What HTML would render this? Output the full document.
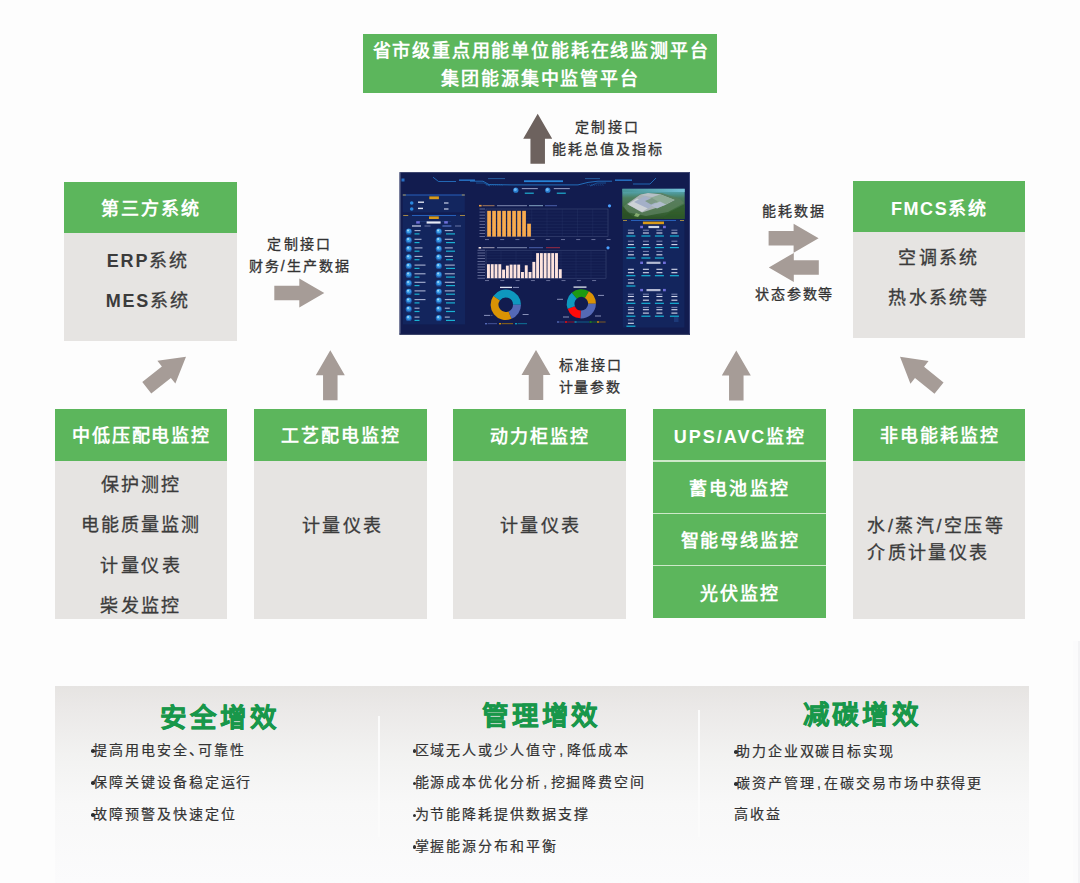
<!DOCTYPE html>
<html lang="zh-CN">
<head>
<meta charset="utf-8">
<style>
*{margin:0;padding:0;box-sizing:border-box}
html,body{width:1080px;height:883px;overflow:hidden;background:#fdfdfd}
body{position:relative;font-family:"Liberation Sans",sans-serif;color:#3a3a3a}
.a{position:absolute}
.g{background:#5cb65c}
.gr{background:#e6e4e2}
.t{position:absolute;white-space:nowrap;line-height:1}
.hd{color:#fff;font-weight:bold}
.bt{color:#3b3b3b;font-weight:normal}
.bt b{font-weight:bold}
.lb{color:#333;font-weight:500}
.ttl{font-weight:bold;color:#18974a}
.bl{color:#333;font-weight:normal}
.bl i{display:inline-block;width:3.6px;height:3.6px;border-radius:50%;background:#2e2e2e;vertical-align:middle;margin-right:-1.6px;position:relative;top:0px}
.bt,.lb{-webkit-text-stroke:0.3px currentColor}
.bl{-webkit-text-stroke:0.2px currentColor}
.ttl{-webkit-text-stroke:0.5px currentColor}
.cm{margin:0 1.5px}
.bt b{-webkit-text-stroke:0}
#dash{filter:blur(0.3px)}


</style>
</head>
<body>
<div id="deco">
<!-- top box -->
<div class="a g" style="left:363px;top:34px;width:354px;height:59px"></div>
<!-- left top box -->
<div class="a g" style="left:64px;top:182px;width:172.6px;height:51.3px"></div>
<div class="a gr" style="left:64px;top:233.3px;width:172.6px;height:107.4px"></div>
<!-- right top box -->
<div class="a g" style="left:852.7px;top:181.2px;width:172.7px;height:51px"></div>
<div class="a gr" style="left:852.7px;top:232.2px;width:172.7px;height:106px"></div>
<!-- lower boxes -->
<div class="a g" style="left:54.7px;top:409px;width:172.5px;height:51.6px"></div>
<div class="a gr" style="left:54.7px;top:460.6px;width:172.5px;height:158px"></div>
<div class="a g" style="left:254px;top:409px;width:173px;height:51.6px"></div>
<div class="a gr" style="left:254px;top:460.6px;width:173px;height:158px"></div>
<div class="a g" style="left:453.3px;top:409px;width:172.4px;height:51.6px"></div>
<div class="a gr" style="left:453.3px;top:460.6px;width:172.4px;height:158px"></div>
<div class="a g" style="left:653.2px;top:409px;width:172.8px;height:209px"></div>
<div class="a" style="left:653.2px;top:460.2px;width:172.8px;height:1.6px;background:#cde9c9"></div>
<div class="a" style="left:653.2px;top:512.8px;width:172.8px;height:1.6px;background:#cde9c9"></div>
<div class="a" style="left:653.2px;top:564.6px;width:172.8px;height:1.6px;background:#cde9c9"></div>
<div class="a g" style="left:853.2px;top:409px;width:172.3px;height:51.6px"></div>
<div class="a gr" style="left:853.2px;top:460.6px;width:172.3px;height:158px"></div>
<!-- arrows -->
<svg class="a" style="left:0;top:0" width="1080" height="883" viewBox="0 0 1080 883">
<defs>
<polygon id="up" points="0,0 14.5,25 7.25,25 7.25,50 -7.25,50 -7.25,25 -14.5,25"/>
</defs>
<use href="#up" fill="#6d625e" transform="translate(537.7,113.7)"/>
<use href="#up" fill="#a69c97" transform="translate(324.3,293) rotate(90)"/>
<use href="#up" fill="#a69c97" transform="translate(330.3,350.2)"/>
<use href="#up" fill="#a69c97" transform="translate(536,350)"/>
<use href="#up" fill="#a69c97" transform="translate(736.3,350.4)"/>
<use href="#up" fill="#a69c97" transform="translate(186,356.7) rotate(51.7)"/>
<use href="#up" fill="#a69c97" transform="translate(900,356.8) rotate(-51.3)"/>
<use href="#up" fill="#a69c97" transform="translate(818.6,238.2) rotate(90)"/>
<use href="#up" fill="#a69c97" transform="translate(768.8,267.4) rotate(-90)"/>
</svg>
<div class="a" style="left:1073px;top:641px;width:7px;height:242px;background:#fbfbfc"></div>
<div class="a" style="left:1078px;top:641px;width:1.5px;height:242px;background:#f3f3f5"></div>
<!-- bottom panel -->
<div class="a" style="left:55px;top:686px;width:974px;height:197px;background:linear-gradient(#e6e4e2 0%,#ebe9e8 12%,#f2f2f1 35%,#f8f8f8 60%,#fbfbfc 100%)"></div>
<div class="a" style="left:378px;top:716px;width:2px;height:121px;background:#fbfbfb"></div>
<div class="a" style="left:697.5px;top:710px;width:2px;height:127px;background:#fbfbfb"></div>
<!-- dashboard -->
<svg id="dash" class="a" style="left:0;top:0" width="1080" height="883" viewBox="0 0 1080 883">
<rect x="399.50" y="172.20" width="290.50" height="162.40" fill="#121c4f"/>
<rect x="399.50" y="172.20" width="1.00" height="162.40" fill="#6c7396"/>
<rect x="689.00" y="172.20" width="1.00" height="162.40" fill="#3a4478"/>
<rect x="399.50" y="333.60" width="290.50" height="1.00" fill="#1c2550"/>
<rect x="401.50" y="178.50" width="3.00" height="3.00" fill="#2a78d0" opacity="0.9"/>
<polyline points="433.0,177.2 438.5,181.5 456.0,181.5" fill="none" stroke="#2a88e0" stroke-width="0.7"/>
<rect x="459.00" y="179.40" width="16.00" height="1.60" fill="#2a7fd6" opacity="0.8"/>
<polyline points="470.0,181.2 483.0,181.2 489.0,184.6 512.0,184.9 578.0,184.9 588.0,182.4 598.0,181.2 612.0,181.2" fill="none" stroke="#2a90e8" stroke-width="0.7"/>
<polyline points="476.0,183.0 484.0,183.0 490.0,186.0" fill="none" stroke="#1f6fc0" stroke-width="0.6"/>
<polyline points="590.0,186.0 597.0,183.0 606.0,183.0" fill="none" stroke="#1f6fc0" stroke-width="0.6"/>
<polyline points="488.0,178.6 505.0,178.6" fill="none" stroke="#3aa0f0" stroke-width="0.6" opacity="0.8"/>
<polyline points="585.0,178.6 600.0,178.6" fill="none" stroke="#3aa0f0" stroke-width="0.6" opacity="0.8"/>
<polyline points="486.0,184.2 487.0,185.8" fill="none" stroke="#2a90e8" stroke-width="0.4" opacity="0.7"/>
<polyline points="587.0,184.2 588.0,185.8" fill="none" stroke="#2a90e8" stroke-width="0.4" opacity="0.7"/>
<polyline points="488.2,184.2 489.2,185.8" fill="none" stroke="#2a90e8" stroke-width="0.4" opacity="0.7"/>
<polyline points="589.2,184.2 590.2,185.8" fill="none" stroke="#2a90e8" stroke-width="0.4" opacity="0.7"/>
<polyline points="490.4,184.2 491.4,185.8" fill="none" stroke="#2a90e8" stroke-width="0.4" opacity="0.7"/>
<polyline points="591.4,184.2 592.4,185.8" fill="none" stroke="#2a90e8" stroke-width="0.4" opacity="0.7"/>
<polyline points="492.6,184.2 493.6,185.8" fill="none" stroke="#2a90e8" stroke-width="0.4" opacity="0.7"/>
<polyline points="593.6,184.2 594.6,185.8" fill="none" stroke="#2a90e8" stroke-width="0.4" opacity="0.7"/>
<polyline points="494.8,184.2 495.8,185.8" fill="none" stroke="#2a90e8" stroke-width="0.4" opacity="0.7"/>
<polyline points="595.8,184.2 596.8,185.8" fill="none" stroke="#2a90e8" stroke-width="0.4" opacity="0.7"/>
<polyline points="497.0,184.2 498.0,185.8" fill="none" stroke="#2a90e8" stroke-width="0.4" opacity="0.7"/>
<polyline points="598.0,184.2 599.0,185.8" fill="none" stroke="#2a90e8" stroke-width="0.4" opacity="0.7"/>
<polyline points="499.2,184.2 500.2,185.8" fill="none" stroke="#2a90e8" stroke-width="0.4" opacity="0.7"/>
<polyline points="600.2,184.2 601.2,185.8" fill="none" stroke="#2a90e8" stroke-width="0.4" opacity="0.7"/>
<polyline points="501.4,184.2 502.4,185.8" fill="none" stroke="#2a90e8" stroke-width="0.4" opacity="0.7"/>
<polyline points="602.4,184.2 603.4,185.8" fill="none" stroke="#2a90e8" stroke-width="0.4" opacity="0.7"/>
<rect x="524.00" y="180.30" width="39.00" height="1.80" fill="#2a8fe6" opacity="0.9"/>
<rect x="615.00" y="179.40" width="17.00" height="1.60" fill="#2a7fd6" opacity="0.8"/>
<polyline points="633.0,184.0 650.0,184.0 656.0,178.0" fill="none" stroke="#2a88e0" stroke-width="0.7"/>
<circle cx="515.80" cy="190.20" r="2.60" fill="#2a7fd0"/>
<circle cx="515.30" cy="189.50" r="1.50" fill="#7cc4ff" opacity="0.8"/>
<rect x="521.80" y="188.05" width="16.00" height="1.10" fill="#aab4d8" opacity="0.8"/>
<rect x="524.80" y="192.60" width="9.00" height="1.20" fill="#20c0e0" opacity="0.9"/>
<circle cx="547.80" cy="190.20" r="2.60" fill="#2a7fd0"/>
<circle cx="547.30" cy="189.50" r="1.50" fill="#7cc4ff" opacity="0.8"/>
<rect x="553.80" y="188.05" width="16.00" height="1.10" fill="#aab4d8" opacity="0.8"/>
<rect x="556.80" y="192.60" width="9.00" height="1.20" fill="#20c0e0" opacity="0.9"/>
<rect x="402.80" y="194.60" width="62.00" height="17.80" fill="#142a64" opacity="0.75"/>
<rect x="402.80" y="194.60" width="62.00" height="0.80" fill="#2d6fd0"/>
<rect x="402.80" y="194.60" width="3.00" height="0.80" fill="#c8a040"/>
<rect x="461.80" y="194.60" width="3.00" height="0.80" fill="#c8a040"/>
<rect x="429.30" y="196.40" width="9.60" height="2.80" fill="#d89a1a"/>
<circle cx="411.70" cy="203.00" r="1.80" fill="#2a88e0"/>
<circle cx="411.70" cy="209.00" r="1.80" fill="#2a88e0"/>
<rect x="418.00" y="201.50" width="6.00" height="1.40" fill="#e0e4f0"/>
<rect x="418.00" y="207.70" width="5.00" height="1.40" fill="#e0e4f0"/>
<rect x="444.00" y="202.40" width="4.50" height="1.20" fill="#c8d0e8"/>
<rect x="444.00" y="208.40" width="4.50" height="1.20" fill="#c8d0e8"/>
<rect x="402.80" y="214.60" width="62.20" height="109.80" fill="#142a64" opacity="0.7"/>
<rect x="412.00" y="215.10" width="44.00" height="0.80" fill="#2d6fd0"/>
<rect x="403.20" y="215.10" width="5.00" height="0.80" fill="#c8a040"/>
<rect x="460.00" y="215.10" width="5.00" height="0.80" fill="#c8a040"/>
<rect x="429.00" y="216.40" width="9.80" height="2.60" fill="#d89a1a"/>
<rect x="419.00" y="221.00" width="9.00" height="0.60" fill="#2a4a8a" opacity="0.7"/>
<rect x="442.00" y="221.00" width="9.00" height="0.60" fill="#2a4a8a" opacity="0.7"/>
<rect x="416.20" y="221.20" width="3.60" height="2.40" fill="#7a78e8" opacity="0.9"/>
<rect x="444.20" y="221.20" width="3.60" height="2.40" fill="#7a78e8" opacity="0.9"/>
<rect x="426.60" y="221.40" width="14.00" height="2.20" fill="#e8ecf6"/>
<rect x="412.00" y="225.40" width="9.00" height="1.20" fill="#d0d6ea"/>
<rect x="424.50" y="225.50" width="6.00" height="1.00" fill="#6a78a8"/>
<rect x="442.40" y="225.40" width="9.00" height="1.20" fill="#5a78c8"/>
<rect x="455.00" y="225.50" width="6.00" height="1.00" fill="#6a78a8"/>
<circle cx="408.75" cy="231.50" r="3.10" fill="#1f6cc4" opacity="0.9"/>
<circle cx="408.75" cy="231.00" r="2.20" fill="#3fa6ec" opacity="0.9"/>
<circle cx="408.05" cy="230.40" r="1.00" fill="#c4eaff" opacity="0.75"/>
<rect x="406.25" y="233.90" width="5.00" height="0.70" fill="#1f4f98" opacity="0.8"/>
<rect x="414.50" y="230.05" width="6.00" height="1.10" fill="#c4cce8" opacity="0.85"/>
<rect x="414.50" y="233.30" width="5.00" height="1.20" fill="#19b8d8" opacity="0.95"/>
<circle cx="438.80" cy="231.50" r="3.10" fill="#1f6cc4" opacity="0.9"/>
<circle cx="438.80" cy="231.00" r="2.20" fill="#3fa6ec" opacity="0.9"/>
<circle cx="438.10" cy="230.40" r="1.00" fill="#c4eaff" opacity="0.75"/>
<rect x="436.30" y="233.90" width="5.00" height="0.70" fill="#1f4f98" opacity="0.8"/>
<rect x="444.80" y="230.05" width="8.00" height="1.10" fill="#c4cce8" opacity="0.85"/>
<rect x="446.00" y="233.30" width="9.00" height="1.20" fill="#19b8d8" opacity="0.95"/>
<circle cx="408.75" cy="240.20" r="3.10" fill="#1f6cc4" opacity="0.9"/>
<circle cx="408.75" cy="239.70" r="2.20" fill="#3fa6ec" opacity="0.9"/>
<circle cx="408.05" cy="239.10" r="1.00" fill="#c4eaff" opacity="0.75"/>
<rect x="406.25" y="242.60" width="5.00" height="0.70" fill="#1f4f98" opacity="0.8"/>
<rect x="414.50" y="238.75" width="7.00" height="1.10" fill="#c4cce8" opacity="0.85"/>
<rect x="414.50" y="242.00" width="5.00" height="1.20" fill="#19b8d8" opacity="0.95"/>
<circle cx="438.80" cy="240.20" r="3.10" fill="#1f6cc4" opacity="0.9"/>
<circle cx="438.80" cy="239.70" r="2.20" fill="#3fa6ec" opacity="0.9"/>
<circle cx="438.10" cy="239.10" r="1.00" fill="#c4eaff" opacity="0.75"/>
<rect x="436.30" y="242.60" width="5.00" height="0.70" fill="#1f4f98" opacity="0.8"/>
<rect x="444.80" y="238.75" width="8.00" height="1.10" fill="#c4cce8" opacity="0.85"/>
<rect x="446.00" y="242.00" width="9.00" height="1.20" fill="#19b8d8" opacity="0.95"/>
<circle cx="408.75" cy="248.80" r="3.10" fill="#1f6cc4" opacity="0.9"/>
<circle cx="408.75" cy="248.30" r="2.20" fill="#3fa6ec" opacity="0.9"/>
<circle cx="408.05" cy="247.70" r="1.00" fill="#c4eaff" opacity="0.75"/>
<rect x="406.25" y="251.20" width="5.00" height="0.70" fill="#1f4f98" opacity="0.8"/>
<rect x="414.50" y="247.35" width="8.00" height="1.10" fill="#c4cce8" opacity="0.85"/>
<rect x="414.50" y="250.60" width="5.00" height="1.20" fill="#19b8d8" opacity="0.95"/>
<circle cx="438.80" cy="248.80" r="3.10" fill="#1f6cc4" opacity="0.9"/>
<circle cx="438.80" cy="248.30" r="2.20" fill="#3fa6ec" opacity="0.9"/>
<circle cx="438.10" cy="247.70" r="1.00" fill="#c4eaff" opacity="0.75"/>
<rect x="436.30" y="251.20" width="5.00" height="0.70" fill="#1f4f98" opacity="0.8"/>
<rect x="444.80" y="247.35" width="8.00" height="1.10" fill="#c4cce8" opacity="0.85"/>
<rect x="446.00" y="250.60" width="9.00" height="1.20" fill="#19b8d8" opacity="0.95"/>
<circle cx="408.75" cy="257.30" r="3.10" fill="#1f6cc4" opacity="0.9"/>
<circle cx="408.75" cy="256.80" r="2.20" fill="#3fa6ec" opacity="0.9"/>
<circle cx="408.05" cy="256.20" r="1.00" fill="#c4eaff" opacity="0.75"/>
<rect x="406.25" y="259.70" width="5.00" height="0.70" fill="#1f4f98" opacity="0.8"/>
<rect x="414.50" y="255.85" width="8.00" height="1.10" fill="#c4cce8" opacity="0.85"/>
<rect x="414.50" y="259.10" width="5.00" height="1.20" fill="#19b8d8" opacity="0.95"/>
<circle cx="438.80" cy="257.30" r="3.10" fill="#1f6cc4" opacity="0.9"/>
<circle cx="438.80" cy="256.80" r="2.20" fill="#3fa6ec" opacity="0.9"/>
<circle cx="438.10" cy="256.20" r="1.00" fill="#c4eaff" opacity="0.75"/>
<rect x="436.30" y="259.70" width="5.00" height="0.70" fill="#1f4f98" opacity="0.8"/>
<rect x="444.80" y="255.85" width="8.00" height="1.10" fill="#c4cce8" opacity="0.85"/>
<rect x="446.00" y="259.10" width="7.00" height="1.20" fill="#19b8d8" opacity="0.95"/>
<circle cx="408.75" cy="266.00" r="3.10" fill="#1f6cc4" opacity="0.9"/>
<circle cx="408.75" cy="265.50" r="2.20" fill="#3fa6ec" opacity="0.9"/>
<circle cx="408.05" cy="264.90" r="1.00" fill="#c4eaff" opacity="0.75"/>
<rect x="406.25" y="268.40" width="5.00" height="0.70" fill="#1f4f98" opacity="0.8"/>
<rect x="414.50" y="264.55" width="11.00" height="1.10" fill="#c4cce8" opacity="0.85"/>
<rect x="414.50" y="267.80" width="5.00" height="1.20" fill="#19b8d8" opacity="0.95"/>
<circle cx="438.80" cy="266.00" r="3.10" fill="#1f6cc4" opacity="0.9"/>
<circle cx="438.80" cy="265.50" r="2.20" fill="#3fa6ec" opacity="0.9"/>
<circle cx="438.10" cy="264.90" r="1.00" fill="#c4eaff" opacity="0.75"/>
<rect x="436.30" y="268.40" width="5.00" height="0.70" fill="#1f4f98" opacity="0.8"/>
<rect x="444.80" y="264.55" width="10.00" height="1.10" fill="#c4cce8" opacity="0.85"/>
<rect x="446.00" y="267.80" width="9.00" height="1.20" fill="#19b8d8" opacity="0.95"/>
<circle cx="408.75" cy="274.70" r="3.10" fill="#1f6cc4" opacity="0.9"/>
<circle cx="408.75" cy="274.20" r="2.20" fill="#3fa6ec" opacity="0.9"/>
<circle cx="408.05" cy="273.60" r="1.00" fill="#c4eaff" opacity="0.75"/>
<rect x="406.25" y="277.10" width="5.00" height="0.70" fill="#1f4f98" opacity="0.8"/>
<rect x="414.50" y="273.25" width="11.00" height="1.10" fill="#c4cce8" opacity="0.85"/>
<rect x="414.50" y="276.50" width="5.00" height="1.20" fill="#19b8d8" opacity="0.95"/>
<circle cx="438.80" cy="274.70" r="3.10" fill="#1f6cc4" opacity="0.9"/>
<circle cx="438.80" cy="274.20" r="2.20" fill="#3fa6ec" opacity="0.9"/>
<circle cx="438.10" cy="273.60" r="1.00" fill="#c4eaff" opacity="0.75"/>
<rect x="436.30" y="277.10" width="5.00" height="0.70" fill="#1f4f98" opacity="0.8"/>
<rect x="444.80" y="273.25" width="10.00" height="1.10" fill="#c4cce8" opacity="0.85"/>
<rect x="446.00" y="276.50" width="9.00" height="1.20" fill="#19b8d8" opacity="0.95"/>
<circle cx="408.75" cy="283.20" r="3.10" fill="#1f6cc4" opacity="0.9"/>
<circle cx="408.75" cy="282.70" r="2.20" fill="#3fa6ec" opacity="0.9"/>
<circle cx="408.05" cy="282.10" r="1.00" fill="#c4eaff" opacity="0.75"/>
<rect x="406.25" y="285.60" width="5.00" height="0.70" fill="#1f4f98" opacity="0.8"/>
<rect x="414.50" y="281.75" width="11.00" height="1.10" fill="#c4cce8" opacity="0.85"/>
<rect x="414.50" y="285.00" width="5.00" height="1.20" fill="#19b8d8" opacity="0.95"/>
<circle cx="438.80" cy="283.20" r="3.10" fill="#1f6cc4" opacity="0.9"/>
<circle cx="438.80" cy="282.70" r="2.20" fill="#3fa6ec" opacity="0.9"/>
<circle cx="438.10" cy="282.10" r="1.00" fill="#c4eaff" opacity="0.75"/>
<rect x="436.30" y="285.60" width="5.00" height="0.70" fill="#1f4f98" opacity="0.8"/>
<rect x="444.80" y="281.75" width="10.00" height="1.10" fill="#c4cce8" opacity="0.85"/>
<rect x="446.00" y="285.00" width="9.00" height="1.20" fill="#19b8d8" opacity="0.95"/>
<circle cx="408.75" cy="291.80" r="3.10" fill="#1f6cc4" opacity="0.9"/>
<circle cx="408.75" cy="291.30" r="2.20" fill="#3fa6ec" opacity="0.9"/>
<circle cx="408.05" cy="290.70" r="1.00" fill="#c4eaff" opacity="0.75"/>
<rect x="406.25" y="294.20" width="5.00" height="0.70" fill="#1f4f98" opacity="0.8"/>
<rect x="414.50" y="290.35" width="11.00" height="1.10" fill="#c4cce8" opacity="0.85"/>
<rect x="414.50" y="293.60" width="5.00" height="1.20" fill="#19b8d8" opacity="0.95"/>
<circle cx="438.80" cy="291.80" r="3.10" fill="#1f6cc4" opacity="0.9"/>
<circle cx="438.80" cy="291.30" r="2.20" fill="#3fa6ec" opacity="0.9"/>
<circle cx="438.10" cy="290.70" r="1.00" fill="#c4eaff" opacity="0.75"/>
<rect x="436.30" y="294.20" width="5.00" height="0.70" fill="#1f4f98" opacity="0.8"/>
<rect x="444.80" y="290.35" width="10.00" height="1.10" fill="#c4cce8" opacity="0.85"/>
<rect x="446.00" y="293.60" width="9.00" height="1.20" fill="#19b8d8" opacity="0.95"/>
<circle cx="408.75" cy="300.50" r="3.10" fill="#1f6cc4" opacity="0.9"/>
<circle cx="408.75" cy="300.00" r="2.20" fill="#3fa6ec" opacity="0.9"/>
<circle cx="408.05" cy="299.40" r="1.00" fill="#c4eaff" opacity="0.75"/>
<rect x="406.25" y="302.90" width="5.00" height="0.70" fill="#1f4f98" opacity="0.8"/>
<rect x="414.50" y="299.05" width="11.00" height="1.10" fill="#c4cce8" opacity="0.85"/>
<rect x="414.50" y="302.30" width="5.00" height="1.20" fill="#19b8d8" opacity="0.95"/>
<circle cx="438.80" cy="300.50" r="3.10" fill="#1f6cc4" opacity="0.9"/>
<circle cx="438.80" cy="300.00" r="2.20" fill="#3fa6ec" opacity="0.9"/>
<circle cx="438.10" cy="299.40" r="1.00" fill="#c4eaff" opacity="0.75"/>
<rect x="436.30" y="302.90" width="5.00" height="0.70" fill="#1f4f98" opacity="0.8"/>
<rect x="444.80" y="299.05" width="10.00" height="1.10" fill="#c4cce8" opacity="0.85"/>
<rect x="446.00" y="302.30" width="9.00" height="1.20" fill="#19b8d8" opacity="0.95"/>
<circle cx="408.75" cy="309.10" r="3.10" fill="#1f6cc4" opacity="0.9"/>
<circle cx="408.75" cy="308.60" r="2.20" fill="#3fa6ec" opacity="0.9"/>
<circle cx="408.05" cy="308.00" r="1.00" fill="#c4eaff" opacity="0.75"/>
<rect x="406.25" y="311.50" width="5.00" height="0.70" fill="#1f4f98" opacity="0.8"/>
<rect x="414.50" y="307.65" width="5.00" height="1.10" fill="#c4cce8" opacity="0.85"/>
<rect x="414.50" y="310.90" width="5.00" height="1.20" fill="#19b8d8" opacity="0.95"/>
<circle cx="438.80" cy="309.10" r="3.10" fill="#1f6cc4" opacity="0.9"/>
<circle cx="438.80" cy="308.60" r="2.20" fill="#3fa6ec" opacity="0.9"/>
<circle cx="438.10" cy="308.00" r="1.00" fill="#c4eaff" opacity="0.75"/>
<rect x="436.30" y="311.50" width="5.00" height="0.70" fill="#1f4f98" opacity="0.8"/>
<rect x="444.80" y="307.65" width="5.00" height="1.10" fill="#c4cce8" opacity="0.85"/>
<rect x="446.00" y="310.90" width="9.00" height="1.20" fill="#19b8d8" opacity="0.95"/>
<circle cx="408.75" cy="318.00" r="3.10" fill="#1f6cc4" opacity="0.9"/>
<circle cx="408.75" cy="317.50" r="2.20" fill="#3fa6ec" opacity="0.9"/>
<circle cx="408.05" cy="316.90" r="1.00" fill="#c4eaff" opacity="0.75"/>
<rect x="406.25" y="320.40" width="5.00" height="0.70" fill="#1f4f98" opacity="0.8"/>
<rect x="414.50" y="316.55" width="5.00" height="1.10" fill="#c4cce8" opacity="0.85"/>
<rect x="414.50" y="319.80" width="5.00" height="1.20" fill="#19b8d8" opacity="0.95"/>
<circle cx="438.80" cy="318.00" r="3.10" fill="#1f6cc4" opacity="0.9"/>
<circle cx="438.80" cy="317.50" r="2.20" fill="#3fa6ec" opacity="0.9"/>
<circle cx="438.10" cy="316.90" r="1.00" fill="#c4eaff" opacity="0.75"/>
<rect x="436.30" y="320.40" width="5.00" height="0.70" fill="#1f4f98" opacity="0.8"/>
<rect x="444.80" y="316.55" width="5.00" height="1.10" fill="#c4cce8" opacity="0.85"/>
<rect x="446.00" y="319.80" width="9.00" height="1.20" fill="#19b8d8" opacity="0.95"/>
<rect x="479.00" y="204.90" width="2.60" height="1.60" fill="#f0a040"/>
<rect x="482.50" y="205.20" width="12.00" height="1.00" fill="#c89060" opacity="0.8"/>
<rect x="497.00" y="205.20" width="30.00" height="1.00" fill="#9aa4c8" opacity="0.8"/>
<rect x="529.00" y="205.20" width="14.00" height="1.00" fill="#a0c8e0" opacity="0.8"/>
<rect x="545.00" y="205.20" width="12.00" height="1.00" fill="#5a70c0" opacity="0.8"/>
<circle cx="609.50" cy="205.80" r="1.60" fill="#4aa0ff"/>
<rect x="486.00" y="209.00" width="122.00" height="27.60" fill="none"/>
<rect x="486" y="209" width="122" height="27.599999999999994" fill="none" stroke="#44507e" stroke-width="0.5"/>
<line x1="486" y1="212.07" x2="608" y2="212.07" stroke="#2a3668" stroke-width="0.35"/>
<line x1="486" y1="215.13" x2="608" y2="215.13" stroke="#2a3668" stroke-width="0.35"/>
<line x1="486" y1="218.20" x2="608" y2="218.20" stroke="#2a3668" stroke-width="0.35"/>
<line x1="486" y1="221.27" x2="608" y2="221.27" stroke="#2a3668" stroke-width="0.35"/>
<line x1="486" y1="224.33" x2="608" y2="224.33" stroke="#2a3668" stroke-width="0.35"/>
<line x1="486" y1="227.40" x2="608" y2="227.40" stroke="#2a3668" stroke-width="0.35"/>
<line x1="486" y1="230.47" x2="608" y2="230.47" stroke="#2a3668" stroke-width="0.35"/>
<line x1="486" y1="233.53" x2="608" y2="233.53" stroke="#2a3668" stroke-width="0.35"/>
<line x1="501.25" y1="209" x2="501.25" y2="236.6" stroke="#2a3668" stroke-width="0.35"/>
<line x1="516.50" y1="209" x2="516.50" y2="236.6" stroke="#2a3668" stroke-width="0.35"/>
<line x1="531.75" y1="209" x2="531.75" y2="236.6" stroke="#2a3668" stroke-width="0.35"/>
<line x1="547.00" y1="209" x2="547.00" y2="236.6" stroke="#2a3668" stroke-width="0.35"/>
<line x1="562.25" y1="209" x2="562.25" y2="236.6" stroke="#2a3668" stroke-width="0.35"/>
<line x1="577.50" y1="209" x2="577.50" y2="236.6" stroke="#2a3668" stroke-width="0.35"/>
<line x1="592.75" y1="209" x2="592.75" y2="236.6" stroke="#2a3668" stroke-width="0.35"/>
<rect x="479.50" y="208.60" width="5.50" height="0.80" fill="#8890b8" opacity="0.8"/>
<rect x="479.50" y="211.67" width="5.50" height="0.80" fill="#8890b8" opacity="0.8"/>
<rect x="479.50" y="214.73" width="5.50" height="0.80" fill="#8890b8" opacity="0.8"/>
<rect x="479.50" y="217.80" width="5.50" height="0.80" fill="#8890b8" opacity="0.8"/>
<rect x="479.50" y="220.87" width="5.50" height="0.80" fill="#8890b8" opacity="0.8"/>
<rect x="479.50" y="223.93" width="5.50" height="0.80" fill="#8890b8" opacity="0.8"/>
<rect x="479.50" y="227.00" width="5.50" height="0.80" fill="#8890b8" opacity="0.8"/>
<rect x="479.50" y="230.07" width="5.50" height="0.80" fill="#8890b8" opacity="0.8"/>
<rect x="479.50" y="233.13" width="5.50" height="0.80" fill="#8890b8" opacity="0.8"/>
<rect x="479.50" y="236.20" width="5.50" height="0.80" fill="#8890b8" opacity="0.8"/>
<rect x="485.00" y="239.15" width="4.00" height="0.90" fill="#8890b8" opacity="0.8"/>
<rect x="500.20" y="239.15" width="4.00" height="0.90" fill="#8890b8" opacity="0.8"/>
<rect x="515.40" y="239.15" width="4.00" height="0.90" fill="#8890b8" opacity="0.8"/>
<rect x="530.60" y="239.15" width="4.00" height="0.90" fill="#8890b8" opacity="0.8"/>
<rect x="545.80" y="239.15" width="4.00" height="0.90" fill="#8890b8" opacity="0.8"/>
<rect x="561.00" y="239.15" width="4.00" height="0.90" fill="#8890b8" opacity="0.8"/>
<rect x="576.20" y="239.15" width="4.00" height="0.90" fill="#8890b8" opacity="0.8"/>
<rect x="591.40" y="239.15" width="4.00" height="0.90" fill="#8890b8" opacity="0.8"/>
<rect x="606.60" y="239.15" width="4.00" height="0.90" fill="#8890b8" opacity="0.8"/>
<rect x="487.20" y="210.80" width="3.70" height="25.80" fill="#f7aa4e"/>
<rect x="492.20" y="210.80" width="3.70" height="25.80" fill="#f7aa4e"/>
<rect x="497.20" y="210.80" width="3.70" height="25.80" fill="#f7aa4e"/>
<rect x="502.20" y="210.80" width="3.70" height="25.80" fill="#f7aa4e"/>
<rect x="507.20" y="210.80" width="3.70" height="25.80" fill="#f7aa4e"/>
<rect x="512.20" y="210.80" width="3.70" height="25.80" fill="#f7aa4e"/>
<rect x="517.20" y="210.80" width="3.70" height="25.80" fill="#f7aa4e"/>
<rect x="522.20" y="210.80" width="3.70" height="25.80" fill="#f7aa4e"/>
<rect x="527.20" y="223.70" width="3.70" height="12.90" fill="#f7aa4e"/>
<rect x="478.60" y="247.00" width="2.60" height="1.60" fill="#f0e0e0"/>
<rect x="482.50" y="247.20" width="12.00" height="1.00" fill="#c8c0d0" opacity="0.8"/>
<rect x="497.00" y="247.20" width="30.00" height="1.00" fill="#9aa4c8" opacity="0.8"/>
<rect x="529.00" y="247.20" width="14.00" height="1.00" fill="#5a70c0" opacity="0.8"/>
<rect x="546.00" y="247.20" width="14.00" height="1.00" fill="#c03040" opacity="0.8"/>
<circle cx="608.00" cy="247.80" r="1.60" fill="#4aa0ff"/>
<rect x="486.00" y="250.20" width="120.00" height="28.00" fill="none"/>
<rect x="486" y="250.2" width="120" height="28.0" fill="none" stroke="#44507e" stroke-width="0.5"/>
<line x1="486" y1="253.00" x2="606" y2="253.00" stroke="#2a3668" stroke-width="0.35"/>
<line x1="486" y1="255.80" x2="606" y2="255.80" stroke="#2a3668" stroke-width="0.35"/>
<line x1="486" y1="258.60" x2="606" y2="258.60" stroke="#2a3668" stroke-width="0.35"/>
<line x1="486" y1="261.40" x2="606" y2="261.40" stroke="#2a3668" stroke-width="0.35"/>
<line x1="486" y1="264.20" x2="606" y2="264.20" stroke="#2a3668" stroke-width="0.35"/>
<line x1="486" y1="267.00" x2="606" y2="267.00" stroke="#2a3668" stroke-width="0.35"/>
<line x1="486" y1="269.80" x2="606" y2="269.80" stroke="#2a3668" stroke-width="0.35"/>
<line x1="486" y1="272.60" x2="606" y2="272.60" stroke="#2a3668" stroke-width="0.35"/>
<line x1="486" y1="275.40" x2="606" y2="275.40" stroke="#2a3668" stroke-width="0.35"/>
<line x1="501.00" y1="250.2" x2="501.00" y2="278.2" stroke="#2a3668" stroke-width="0.35"/>
<line x1="516.00" y1="250.2" x2="516.00" y2="278.2" stroke="#2a3668" stroke-width="0.35"/>
<line x1="531.00" y1="250.2" x2="531.00" y2="278.2" stroke="#2a3668" stroke-width="0.35"/>
<line x1="546.00" y1="250.2" x2="546.00" y2="278.2" stroke="#2a3668" stroke-width="0.35"/>
<line x1="561.00" y1="250.2" x2="561.00" y2="278.2" stroke="#2a3668" stroke-width="0.35"/>
<line x1="576.00" y1="250.2" x2="576.00" y2="278.2" stroke="#2a3668" stroke-width="0.35"/>
<line x1="591.00" y1="250.2" x2="591.00" y2="278.2" stroke="#2a3668" stroke-width="0.35"/>
<rect x="477.50" y="249.80" width="7.50" height="0.80" fill="#8890b8" opacity="0.8"/>
<rect x="477.50" y="252.60" width="7.50" height="0.80" fill="#8890b8" opacity="0.8"/>
<rect x="477.50" y="255.40" width="7.50" height="0.80" fill="#8890b8" opacity="0.8"/>
<rect x="477.50" y="258.20" width="7.50" height="0.80" fill="#8890b8" opacity="0.8"/>
<rect x="477.50" y="261.00" width="7.50" height="0.80" fill="#8890b8" opacity="0.8"/>
<rect x="477.50" y="263.80" width="7.50" height="0.80" fill="#8890b8" opacity="0.8"/>
<rect x="477.50" y="266.60" width="7.50" height="0.80" fill="#8890b8" opacity="0.8"/>
<rect x="477.50" y="269.40" width="7.50" height="0.80" fill="#8890b8" opacity="0.8"/>
<rect x="477.50" y="272.20" width="7.50" height="0.80" fill="#8890b8" opacity="0.8"/>
<rect x="477.50" y="275.00" width="7.50" height="0.80" fill="#8890b8" opacity="0.8"/>
<rect x="477.50" y="277.80" width="7.50" height="0.80" fill="#8890b8" opacity="0.8"/>
<rect x="485.00" y="280.15" width="4.00" height="0.90" fill="#8890b8" opacity="0.8"/>
<rect x="500.30" y="280.15" width="4.00" height="0.90" fill="#8890b8" opacity="0.8"/>
<rect x="515.60" y="280.15" width="4.00" height="0.90" fill="#8890b8" opacity="0.8"/>
<rect x="530.90" y="280.15" width="4.00" height="0.90" fill="#8890b8" opacity="0.8"/>
<rect x="546.20" y="280.15" width="4.00" height="0.90" fill="#8890b8" opacity="0.8"/>
<rect x="561.50" y="280.15" width="4.00" height="0.90" fill="#8890b8" opacity="0.8"/>
<rect x="576.80" y="280.15" width="4.00" height="0.90" fill="#8890b8" opacity="0.8"/>
<rect x="592.10" y="280.15" width="4.00" height="0.90" fill="#8890b8" opacity="0.8"/>
<rect x="487.00" y="264.20" width="2.90" height="14.00" fill="#fde4de"/>
<rect x="490.78" y="264.20" width="2.90" height="14.00" fill="#fde4de"/>
<rect x="494.56" y="264.20" width="2.90" height="14.00" fill="#fde4de"/>
<rect x="498.34" y="264.20" width="2.90" height="14.00" fill="#fde4de"/>
<rect x="502.12" y="269.60" width="2.90" height="8.60" fill="#fde4de"/>
<rect x="505.90" y="265.60" width="2.90" height="12.60" fill="#fde4de"/>
<rect x="509.68" y="264.60" width="2.90" height="13.60" fill="#fde4de"/>
<rect x="513.46" y="264.60" width="2.90" height="13.60" fill="#fde4de"/>
<rect x="517.24" y="264.60" width="2.90" height="13.60" fill="#fde4de"/>
<rect x="521.02" y="272.00" width="2.90" height="6.20" fill="#fde4de"/>
<rect x="524.80" y="265.30" width="2.90" height="12.90" fill="#fde4de"/>
<rect x="528.58" y="272.00" width="2.90" height="6.20" fill="#fde4de"/>
<rect x="532.36" y="261.90" width="2.90" height="16.30" fill="#fde4de"/>
<rect x="536.14" y="253.10" width="2.90" height="25.10" fill="#fde4de"/>
<rect x="539.92" y="253.10" width="2.90" height="25.10" fill="#fde4de"/>
<rect x="543.70" y="253.10" width="2.90" height="25.10" fill="#fde4de"/>
<rect x="547.48" y="253.10" width="2.90" height="25.10" fill="#fde4de"/>
<rect x="551.26" y="253.10" width="2.90" height="25.10" fill="#fde4de"/>
<rect x="555.04" y="253.10" width="2.90" height="25.10" fill="#fde4de"/>
<rect x="558.82" y="269.20" width="2.90" height="9.00" fill="#fde4de"/>
<path d="M493.35,295.98 A15.2,15.2 0 0 1 521.00,304.70 L513.00,304.70 A7.2,7.2 0 0 0 499.90,300.57Z" fill="#0e98be"/>
<path d="M521.00,304.70 A15.2,15.2 0 0 1 511.49,318.79 L508.50,311.38 A7.2,7.2 0 0 0 513.00,304.70Z" fill="#5469b6"/>
<path d="M511.49,318.79 A15.2,15.2 0 0 1 493.35,295.98 L499.90,300.57 A7.2,7.2 0 0 0 508.50,311.38Z" fill="#da9304"/>
<rect x="500.00" y="286.75" width="12.00" height="1.30" fill="#dfe3f0"/>
<rect x="513.00" y="286.90" width="6.00" height="1.00" fill="#8890b8"/>
<rect x="484.00" y="314.90" width="6.00" height="1.00" fill="#8890b8"/>
<rect x="490.50" y="314.95" width="2.00" height="0.50" fill="#8890b8"/>
<rect x="522.60" y="314.00" width="6.00" height="1.00" fill="#8890b8"/>
<rect x="485.00" y="323.00" width="2.20" height="1.40" fill="#5469b6"/>
<rect x="488.00" y="323.25" width="9.00" height="0.90" fill="#4a5aa0"/>
<rect x="499.00" y="323.00" width="2.20" height="1.40" fill="#da9304"/>
<rect x="502.00" y="323.25" width="11.00" height="0.90" fill="#a07010"/>
<rect x="515.00" y="323.00" width="2.20" height="1.40" fill="#0e98be"/>
<rect x="518.00" y="323.25" width="9.00" height="0.90" fill="#0e7ea0"/>
<path d="M571.72,292.78 A14.6,14.6 0 0 1 588.93,291.35 L584.85,298.00 A6.8,6.8 0 0 0 576.84,298.67Z" fill="#1d9a12"/>
<path d="M588.93,291.35 A14.6,14.6 0 0 1 595.90,303.80 L588.10,303.80 A6.8,6.8 0 0 0 584.85,298.00Z" fill="#da9304"/>
<path d="M595.90,303.80 A14.6,14.6 0 0 1 580.28,318.36 L580.83,310.58 A6.8,6.8 0 0 0 588.10,303.80Z" fill="#5469b6"/>
<path d="M580.28,318.36 A14.6,14.6 0 0 1 567.58,308.79 L574.91,306.13 A6.8,6.8 0 0 0 580.83,310.58Z" fill="#ff0a0a"/>
<path d="M567.58,308.79 A14.6,14.6 0 0 1 571.72,292.78 L576.84,298.67 A6.8,6.8 0 0 0 574.91,306.13Z" fill="#0e98be"/>
<rect x="573.50" y="286.45" width="13.00" height="1.30" fill="#dfe3f0"/>
<rect x="598.00" y="294.90" width="6.00" height="1.00" fill="#8890b8"/>
<rect x="557.00" y="298.80" width="6.00" height="1.00" fill="#8890b8"/>
<rect x="563.00" y="316.50" width="6.00" height="1.00" fill="#8890b8"/>
<rect x="595.00" y="315.50" width="6.00" height="1.00" fill="#8890b8"/>
<rect x="557.00" y="321.30" width="2.20" height="1.40" fill="#5469b6"/>
<rect x="559.60" y="321.55" width="5.00" height="0.90" fill="#5469b6" opacity="0.6"/>
<rect x="565.00" y="321.30" width="2.20" height="1.40" fill="#ff0a0a"/>
<rect x="567.60" y="321.55" width="7.00" height="0.90" fill="#ff0a0a" opacity="0.6"/>
<rect x="574.50" y="321.30" width="2.20" height="1.40" fill="#0e98be"/>
<rect x="577.10" y="321.55" width="12.00" height="0.90" fill="#0e98be" opacity="0.6"/>
<rect x="589.50" y="321.30" width="2.20" height="1.40" fill="#1d9a12"/>
<rect x="592.10" y="321.55" width="5.00" height="0.90" fill="#1d9a12" opacity="0.6"/>
<rect x="597.00" y="321.30" width="2.20" height="1.40" fill="#da9304"/>
<rect x="599.60" y="321.55" width="6.00" height="0.90" fill="#da9304" opacity="0.6"/>
<defs>
<linearGradient id="ph" x1="0" y1="0" x2="0" y2="1">
<stop offset="0" stop-color="#5fb2c6"/><stop offset="0.14" stop-color="#4f9a9c"/>
<stop offset="0.3" stop-color="#4d7f60"/><stop offset="0.7" stop-color="#3d6a3a"/><stop offset="1" stop-color="#2c5228"/></linearGradient>
<linearGradient id="sky" x1="0" y1="0" x2="1" y2="0">
<stop offset="0" stop-color="#3f8a86" stop-opacity="0.6"/><stop offset="1" stop-color="#7cc8e0" stop-opacity="0.8"/></linearGradient>
<filter id="pb"><feGaussianBlur stdDeviation="0.45"/></filter>
</defs>
<g filter="url(#pb)">
<rect x="622.30" y="188.80" width="62.40" height="30.30" fill="url(#ph)"/>
<rect x="622.30" y="188.80" width="62.40" height="3.20" fill="url(#sky)"/>
<polygon points="624,206 640,194 662,193 680,199 684,203 668,212 646,216 626,212" fill="#5a7e5c" opacity="0.8"/>
<polygon points="627,204 640,194.8 660.3,194.2 674.8,199.9 665.3,204.9 642,212.4" fill="#a9b3b6"/>
<polygon points="628,204.5 637,198.5 652,205.5 642,212" fill="#cdd2d6"/>
<polygon points="634,202 645,196 658,202.5 648,208.5" fill="#a4b0c8"/>
<polygon points="650,198 660,194.5 674.5,199.8 665,204.8 656,203" fill="#8eab96"/>
<polygon points="645,201 652,198 658,201.5 651,204.5" fill="#7e9a88"/>
<polygon points="651,205.5 660,201.5 666,204.5 657,208.5" fill="#b0bccc"/>
<polygon points="640,194.8 648,193 660.3,194.2 652,197" fill="#b6c0c6"/>
<polygon points="636,213 640,214.5 638,217 634,216" fill="#9ac080" opacity="0.8"/>
<polygon points="622.3,206 630,214 636,219.1 622.3,219.1" fill="#2a4e24" opacity="0.8"/>
<polygon points="670,212 684.7,204 684.7,219.1 662,219.1" fill="#2e5a2a" opacity="0.7"/>
</g>
<rect x="622.80" y="219.60" width="61.60" height="107.90" fill="#142a64" opacity="0.7"/>
<rect x="631.00" y="220.20" width="45.00" height="0.80" fill="#2d6fd0"/>
<rect x="623.00" y="220.20" width="4.00" height="0.80" fill="#c8a040"/>
<rect x="680.00" y="220.20" width="4.00" height="0.80" fill="#c8a040"/>
<rect x="642.90" y="221.60" width="21.10" height="2.60" fill="#d89a1a"/>
<rect x="640.20" y="225.80" width="2.80" height="2.40" fill="#7a78e8" opacity="0.9"/>
<rect x="663.00" y="225.80" width="2.80" height="2.40" fill="#7a78e8" opacity="0.9"/>
<rect x="648.40" y="225.90" width="10.80" height="2.20" fill="#e8ecf6" opacity="0.9"/>
<rect x="640.20" y="261.60" width="2.80" height="2.40" fill="#7a78e8" opacity="0.9"/>
<rect x="663.00" y="261.60" width="2.80" height="2.40" fill="#7a78e8" opacity="0.9"/>
<rect x="646.50" y="261.70" width="14.00" height="2.20" fill="#c8cce0" opacity="0.9"/>
<rect x="640.20" y="288.90" width="2.80" height="2.40" fill="#7a78e8" opacity="0.9"/>
<rect x="663.00" y="288.90" width="2.80" height="2.40" fill="#7a78e8" opacity="0.9"/>
<rect x="646.50" y="289.00" width="14.00" height="2.20" fill="#c8cce0" opacity="0.9"/>
<rect x="627.90" y="229.70" width="6.00" height="1.00" fill="#9aa4cc" opacity="0.8"/>
<rect x="627.90" y="232.45" width="6.00" height="1.10" fill="#d6dbee"/>
<rect x="626.40" y="235.40" width="9.00" height="1.20" fill="#17b4d6"/>
<rect x="642.90" y="229.70" width="6.00" height="1.00" fill="#9aa4cc" opacity="0.8"/>
<rect x="642.90" y="232.45" width="6.00" height="1.10" fill="#d6dbee"/>
<rect x="641.40" y="235.40" width="9.00" height="1.20" fill="#17b4d6"/>
<rect x="656.40" y="229.70" width="6.00" height="1.00" fill="#9aa4cc" opacity="0.8"/>
<rect x="656.40" y="232.45" width="6.00" height="1.10" fill="#d6dbee"/>
<rect x="654.90" y="235.40" width="9.00" height="1.20" fill="#17b4d6"/>
<rect x="671.40" y="229.70" width="6.00" height="1.00" fill="#9aa4cc" opacity="0.8"/>
<rect x="671.40" y="232.45" width="6.00" height="1.10" fill="#d6dbee"/>
<rect x="669.90" y="235.40" width="9.00" height="1.20" fill="#17b4d6"/>
<rect x="627.90" y="240.70" width="6.00" height="1.00" fill="#9aa4cc" opacity="0.8"/>
<rect x="627.90" y="244.05" width="6.00" height="1.10" fill="#d6dbee"/>
<rect x="626.40" y="247.00" width="9.00" height="1.20" fill="#17b4d6"/>
<rect x="642.90" y="240.70" width="6.00" height="1.00" fill="#9aa4cc" opacity="0.8"/>
<rect x="642.90" y="244.05" width="6.00" height="1.10" fill="#d6dbee"/>
<rect x="641.40" y="247.00" width="9.00" height="1.20" fill="#17b4d6"/>
<rect x="656.40" y="240.70" width="6.00" height="1.00" fill="#9aa4cc" opacity="0.8"/>
<rect x="656.40" y="244.05" width="6.00" height="1.10" fill="#d6dbee"/>
<rect x="654.90" y="247.00" width="9.00" height="1.20" fill="#17b4d6"/>
<rect x="671.40" y="240.70" width="6.00" height="1.00" fill="#9aa4cc" opacity="0.8"/>
<rect x="671.40" y="244.05" width="6.00" height="1.10" fill="#d6dbee"/>
<rect x="669.90" y="247.00" width="9.00" height="1.20" fill="#17b4d6"/>
<rect x="627.90" y="250.90" width="6.00" height="1.00" fill="#9aa4cc" opacity="0.8"/>
<rect x="627.90" y="254.25" width="6.00" height="1.10" fill="#d6dbee"/>
<rect x="626.40" y="257.40" width="9.00" height="1.20" fill="#17b4d6"/>
<rect x="642.90" y="250.90" width="6.00" height="1.00" fill="#9aa4cc" opacity="0.8"/>
<rect x="642.90" y="254.25" width="6.00" height="1.10" fill="#d6dbee"/>
<rect x="641.40" y="257.40" width="9.00" height="1.20" fill="#17b4d6"/>
<rect x="656.40" y="250.90" width="6.00" height="1.00" fill="#9aa4cc" opacity="0.8"/>
<rect x="656.40" y="254.25" width="6.00" height="1.10" fill="#d6dbee"/>
<rect x="654.90" y="257.40" width="9.00" height="1.20" fill="#17b4d6"/>
<rect x="627.90" y="268.75" width="6.00" height="1.10" fill="#d6dbee"/>
<rect x="627.90" y="272.15" width="6.00" height="1.10" fill="#d6dbee"/>
<rect x="626.40" y="275.10" width="9.00" height="1.20" fill="#17b4d6"/>
<rect x="642.90" y="268.75" width="6.00" height="1.10" fill="#d6dbee"/>
<rect x="642.90" y="272.15" width="6.00" height="1.10" fill="#d6dbee"/>
<rect x="641.40" y="275.10" width="9.00" height="1.20" fill="#17b4d6"/>
<rect x="656.40" y="268.75" width="6.00" height="1.10" fill="#d6dbee"/>
<rect x="656.40" y="272.15" width="6.00" height="1.10" fill="#d6dbee"/>
<rect x="654.90" y="275.10" width="9.00" height="1.20" fill="#17b4d6"/>
<rect x="671.40" y="268.75" width="6.00" height="1.10" fill="#d6dbee"/>
<rect x="671.40" y="272.15" width="6.00" height="1.10" fill="#d6dbee"/>
<rect x="669.90" y="275.10" width="9.00" height="1.20" fill="#17b4d6"/>
<rect x="627.90" y="279.00" width="6.00" height="1.00" fill="#9aa4cc" opacity="0.8"/>
<rect x="627.90" y="282.45" width="6.00" height="1.10" fill="#d6dbee"/>
<rect x="626.40" y="285.40" width="9.00" height="1.20" fill="#17b4d6"/>
<rect x="627.90" y="293.70" width="6.00" height="1.00" fill="#9aa4cc" opacity="0.8"/>
<rect x="627.90" y="295.95" width="6.00" height="1.10" fill="#d6dbee"/>
<rect x="627.90" y="299.65" width="6.00" height="1.10" fill="#d6dbee"/>
<rect x="626.40" y="302.70" width="9.00" height="1.20" fill="#17b4d6"/>
<rect x="642.90" y="293.70" width="6.00" height="1.00" fill="#9aa4cc" opacity="0.8"/>
<rect x="642.90" y="295.95" width="6.00" height="1.10" fill="#d6dbee"/>
<rect x="642.90" y="299.65" width="6.00" height="1.10" fill="#d6dbee"/>
<rect x="641.40" y="302.70" width="9.00" height="1.20" fill="#17b4d6"/>
<rect x="656.40" y="293.70" width="6.00" height="1.00" fill="#9aa4cc" opacity="0.8"/>
<rect x="656.40" y="295.95" width="6.00" height="1.10" fill="#d6dbee"/>
<rect x="656.40" y="299.65" width="6.00" height="1.10" fill="#d6dbee"/>
<rect x="654.90" y="302.70" width="9.00" height="1.20" fill="#17b4d6"/>
<rect x="671.40" y="293.70" width="6.00" height="1.00" fill="#9aa4cc" opacity="0.8"/>
<rect x="671.40" y="295.95" width="6.00" height="1.10" fill="#d6dbee"/>
<rect x="671.40" y="299.65" width="6.00" height="1.10" fill="#d6dbee"/>
<rect x="669.90" y="302.70" width="9.00" height="1.20" fill="#17b4d6"/>
<rect x="627.90" y="306.90" width="6.00" height="1.00" fill="#9aa4cc" opacity="0.8"/>
<rect x="627.90" y="309.15" width="6.00" height="1.10" fill="#d6dbee"/>
<rect x="627.90" y="312.55" width="6.00" height="1.10" fill="#d6dbee"/>
<rect x="626.40" y="315.60" width="9.00" height="1.20" fill="#17b4d6"/>
<rect x="642.90" y="306.90" width="6.00" height="1.00" fill="#9aa4cc" opacity="0.8"/>
<rect x="642.90" y="309.15" width="6.00" height="1.10" fill="#d6dbee"/>
<rect x="642.90" y="312.55" width="6.00" height="1.10" fill="#d6dbee"/>
<rect x="641.40" y="315.60" width="9.00" height="1.20" fill="#17b4d6"/>
<rect x="656.40" y="306.90" width="6.00" height="1.00" fill="#9aa4cc" opacity="0.8"/>
<rect x="656.40" y="309.15" width="6.00" height="1.10" fill="#d6dbee"/>
<rect x="656.40" y="312.55" width="6.00" height="1.10" fill="#d6dbee"/>
<rect x="654.90" y="315.60" width="9.00" height="1.20" fill="#17b4d6"/>
<rect x="671.40" y="306.90" width="6.00" height="1.00" fill="#9aa4cc" opacity="0.8"/>
<rect x="671.40" y="309.15" width="6.00" height="1.10" fill="#d6dbee"/>
<rect x="671.40" y="312.55" width="6.00" height="1.10" fill="#d6dbee"/>
<rect x="669.90" y="315.60" width="9.00" height="1.20" fill="#17b4d6"/>
<rect x="627.90" y="319.40" width="6.00" height="1.00" fill="#9aa4cc" opacity="0.8"/>
<rect x="627.90" y="322.75" width="6.00" height="1.10" fill="#d6dbee"/>
<rect x="626.40" y="325.60" width="9.00" height="1.20" fill="#17b4d6"/>
<rect x="674.00" y="317.00" width="4.50" height="5.00" fill="#1f3f80" opacity="0.8"/>
</svg>

</div>
<div class="t hd" style="left:372.61px;top:42.41px;font-size:18px;letter-spacing:1.81px">省市级重点用能单位能耗在线监测平台</div>
<div class="t hd" style="left:441.42px;top:69.61px;font-size:18px;letter-spacing:1.83px">集团能源集中监管平台</div>
<div class="t hd" style="left:101.07px;top:200.01px;font-size:18px;letter-spacing:2.09px">第三方系统</div>
<div class="t hd" style="left:890.94px;top:199.81px;font-size:18px;letter-spacing:1.58px">FMCS系统</div>
<div class="t hd" style="left:72.02px;top:426.81px;font-size:18px;letter-spacing:1.85px">中低压配电监控</div>
<div class="t hd" style="left:280.66px;top:426.81px;font-size:18px;letter-spacing:2.02px">工艺配电监控</div>
<div class="t hd" style="left:490.24px;top:427.61px;font-size:18px;letter-spacing:2.00px">动力柜监控</div>
<div class="t hd" style="left:673.87px;top:428.01px;font-size:18px;letter-spacing:1.97px">UPS/AVC监控</div>
<div class="t hd" style="left:689.27px;top:480.21px;font-size:18px;letter-spacing:2.11px">蓄电池监控</div>
<div class="t hd" style="left:680.62px;top:532.21px;font-size:18px;letter-spacing:1.87px">智能母线监控</div>
<div class="t hd" style="left:699.67px;top:585.01px;font-size:18px;letter-spacing:2.25px">光伏监控</div>
<div class="t hd" style="left:879.66px;top:426.81px;font-size:18px;letter-spacing:2.02px">非电能耗监控</div>
<div class="t bt" style="left:106.80px;top:251.71px;font-size:18px;letter-spacing:1.82px"><b>ERP</b>系统</div>
<div class="t bt" style="left:105.80px;top:292.31px;font-size:18px;letter-spacing:1.78px"><b>MES</b>系统</div>
<div class="t bt" style="left:898.46px;top:248.81px;font-size:18px;letter-spacing:2.13px">空调系统</div>
<div class="t bt" style="left:888.48px;top:288.61px;font-size:18px;letter-spacing:2.14px">热水系统等</div>
<div class="t bt" style="left:101.04px;top:476.21px;font-size:18px;letter-spacing:2.07px">保护测控</div>
<div class="t bt" style="left:80.88px;top:515.61px;font-size:18px;letter-spacing:2.07px">电能质量监测</div>
<div class="t bt" style="left:100.32px;top:556.61px;font-size:18px;letter-spacing:2.55px">计量仪表</div>
<div class="t bt" style="left:100.29px;top:597.01px;font-size:18px;letter-spacing:2.34px">柴发监控</div>
<div class="t bt" style="left:302.10px;top:517.01px;font-size:18px;letter-spacing:2.40px">计量仪表</div>
<div class="t bt" style="left:500.10px;top:517.01px;font-size:18px;letter-spacing:2.40px">计量仪表</div>
<div class="t bt" style="left:867.47px;top:517.01px;font-size:18px;letter-spacing:2.49px">水/蒸汽/空压等</div>
<div class="t bt" style="left:867.36px;top:544.21px;font-size:18px;letter-spacing:2.36px">介质计量仪表</div>
<div class="t lb" style="left:574.70px;top:120.38px;font-size:14px;letter-spacing:2.43px">定制接口</div>
<div class="t lb" style="left:552.05px;top:141.78px;font-size:14px;letter-spacing:1.93px">能耗总值及指标</div>
<div class="t lb" style="left:267.46px;top:237.38px;font-size:14px;letter-spacing:2.16px">定制接口</div>
<div class="t lb" style="left:248.68px;top:258.98px;font-size:14px;letter-spacing:2.02px">财务/生产数据</div>
<div class="t lb" style="left:762.41px;top:203.98px;font-size:14px;letter-spacing:1.86px">能耗数据</div>
<div class="t lb" style="left:755.39px;top:286.78px;font-size:14px;letter-spacing:1.75px">状态参数等</div>
<div class="t lb" style="left:558.67px;top:357.98px;font-size:14px;letter-spacing:2.19px">标准接口</div>
<div class="t lb" style="left:558.62px;top:379.98px;font-size:14px;letter-spacing:1.89px">计量参数</div>
<div class="t ttl" style="left:160.12px;top:704.63px;font-size:26.5px;letter-spacing:3.92px">安全增效</div>
<div class="t ttl" style="left:482.46px;top:702.83px;font-size:26.5px;letter-spacing:3.56px">管理增效</div>
<div class="t ttl" style="left:802.53px;top:702.03px;font-size:26.5px;letter-spacing:3.98px">减碳增效</div>
<div class="t bl" style="left:91.40px;top:742.58px;font-size:14px;letter-spacing:1.90px"><i></i>提高用电安全<span style="letter-spacing:-5px">、</span>可靠性</div>
<div class="t bl" style="left:91.40px;top:774.98px;font-size:14px;letter-spacing:1.90px"><i></i>保障关键设备稳定运行</div>
<div class="t bl" style="left:91.40px;top:806.58px;font-size:14px;letter-spacing:1.90px"><i></i>故障预警及快速定位</div>
<div class="t bl" style="left:412.60px;top:742.78px;font-size:14px;letter-spacing:1.90px"><i></i>区域无人或少人值守<span class="cm">,</span>降低成本</div>
<div class="t bl" style="left:412.60px;top:775.18px;font-size:14px;letter-spacing:1.90px"><i></i>能源成本优化分析<span class="cm">,</span>挖掘降费空间</div>
<div class="t bl" style="left:412.60px;top:807.18px;font-size:14px;letter-spacing:1.90px"><i></i>为节能降耗提供数据支撑</div>
<div class="t bl" style="left:412.60px;top:838.98px;font-size:14px;letter-spacing:1.90px"><i></i>掌握能源分布和平衡</div>
<div class="t bl" style="left:734.00px;top:743.78px;font-size:14px;letter-spacing:1.90px"><i></i>助力企业双碳目标实现</div>
<div class="t bl" style="left:734.00px;top:775.78px;font-size:14px;letter-spacing:1.90px"><i></i>碳资产管理<span class="cm">,</span>在碳交易市场中获得更</div>
<div class="t bl" style="left:734.00px;top:806.78px;font-size:14px;letter-spacing:1.90px">高收益</div>
</body>
</html>
